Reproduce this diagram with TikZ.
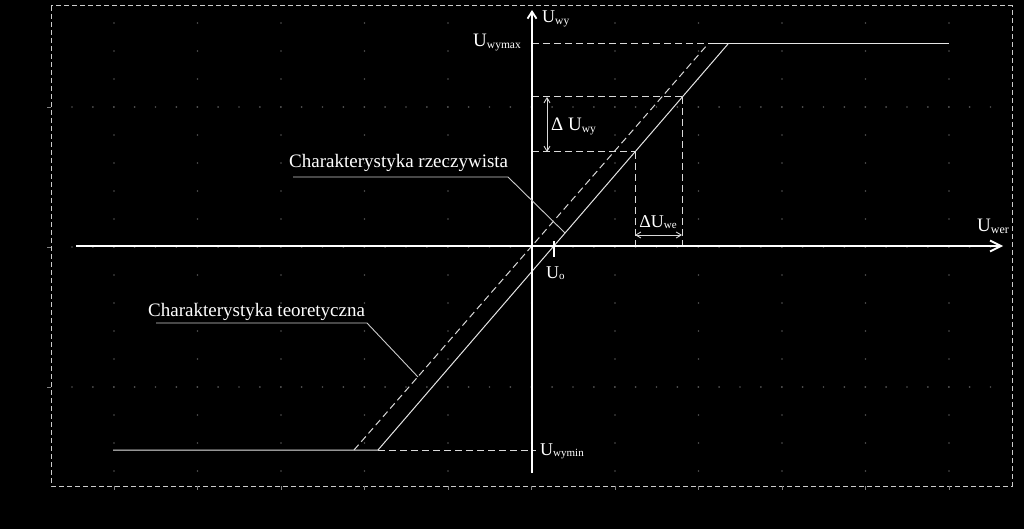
\documentclass[tikz,border=0pt]{standalone}
\usepackage{fontspec}
\setmainfont{Liberation Serif}
\usetikzlibrary{arrows.meta}
\newcommand\lowsub[2]{{\fontsize{#1}{#1}\selectfont\raisebox{-1.5pt}{#2}}}
\begin{document}
\begin{tikzpicture}[x=1pt,y=-1pt,
  font=\fontsize{19}{22}\selectfont,
  txt/.style={text=white, inner sep=0pt},
  axis/.style={white, line width=1.8pt},
  curve/.style={white!90!black, line width=1pt},
  guide/.style={white!85!black, line width=1pt, dash pattern=on 7pt off 4pt},
  leader/.style={white!80!black, line width=0.9pt},
  dimline/.style={white!85!black, line width=0.9pt, {Straight Barb[length=5pt,width=6pt]}-{Straight Barb[length=5pt,width=6pt]}},
  frame/.style={white!80!black, line width=1pt, dash pattern=on 5pt off 3pt},
  dotc/.style={fill=white!32!black},
  tickc/.style={white!50!black, line width=0.8pt}
]
\fill[black] (0,0) rectangle (1024,529);
\useasboundingbox (0,0) rectangle (1024,529);

% faint dot grid
\foreach \i in {0,...,10} \foreach \k in {-8,...,8}
  \fill[dotc] ({114+83.5*\i},{247+28*\k}) circle (0.9pt);
\foreach \yy in {107,247,387} \foreach \j in {0,...,44}
  \fill[dotc] ({72+20.875*\j},\yy) circle (0.9pt);

% frame and ticks
\draw[frame] (51,6) rectangle (1012,486);
\foreach \i in {0,...,10} \draw[tickc] ({114+83.5*\i},486) -- ++(0,4);
\foreach \yy in {107,247,387} \draw[tickc] (51,\yy) -- ++(-4,0);

% coordinates
\coordinate (O) at (532,246);
\coordinate (xs) at (76,246);
\coordinate (xe) at (1003,246);
\coordinate (ys) at (532,473);
\coordinate (ye) at (532,10);
\coordinate (T1) at (354,450);
\coordinate (T2) at (708,44);
\coordinate (R1) at (378,450);
\coordinate (R2) at (728,44);
\coordinate (Lend) at (113,450);
\coordinate (Rend) at (949,44);
\coordinate (Ymax) at (532,44);
\coordinate (Ymin) at (536,450);
\coordinate (P1) at (682,97);
\coordinate (P2) at (635,152);
\coordinate (A1) at (532,97);
\coordinate (A2) at (532,152);
\coordinate (B1) at (682,246);
\coordinate (B2) at (635,246);
\coordinate (U0t) at (554,241);
\coordinate (U0b) at (554,257);
\coordinate (D1) at (547,97);
\coordinate (D2) at (547,152);
\coordinate (E1) at (635,235);
\coordinate (E2) at (682,235);
\coordinate (La) at (293,177);
\coordinate (Lb) at (508,177);
\coordinate (Lc) at (565,233);
\coordinate (Ma) at (156,323);
\coordinate (Mb) at (367,323);
\coordinate (Mc) at (418,377);

% guides
\draw[guide] (Ymax) -- (T2);
\draw[guide] (R1) -- (Ymin);
\draw[guide] (A1) -- (P1);
\draw[guide] (A2) -- (P2);
\draw[guide] (P1) -- (B1);
\draw[guide] (P2) -- (B2);
\draw[guide] (T1) -- (T2);

% characteristics
\draw[curve] (Lend) -- (R1) -- (R2);
\draw[curve] (T2) -- (Rend);

% axes
\draw[axis, -{Straight Barb[length=11pt,width=11pt]}] (xs) -- (xe);
\draw[axis, -{Straight Barb[length=7pt,width=9pt]}] (ys) -- (ye);
\draw[axis, line width=1.5pt] (U0t) -- (U0b);

% dimensions
\draw[dimline] (D1) -- (D2);
\draw[dimline] (E1) -- (E2);

% leaders
\draw[leader] (La) -- (Lb) -- (Lc);
\draw[leader] (Ma) -- (Mb) -- (Mc);

% labels
\node[txt, anchor=base west] (lr) at (289,168) {Charakterystyka rzeczywista};
\node[txt, anchor=base west] (lt) at (148,316) {Charakterystyka teoretyczna};
\node[txt, anchor=base west, font=\fontsize{18}{20}\selectfont] (uwy) at (542,23) {U\lowsub{11.5}{wy}};
\node[txt, anchor=base east] (umax) at (521,47) {U\lowsub{11.5}{wymax}};
\node[txt, anchor=base west, font=\fontsize{18}{20}\selectfont] (umin) at (540,455) {U\lowsub{11}{wymin}};
\node[txt, anchor=base west] (uwer) at (977,232) {U\lowsub{12}{wer}};
\node[txt, anchor=base west] (duwy) at (551,131) {Δ U\lowsub{11.5}{wy}};
\node[txt, anchor=base, font=\fontsize{18}{20}\selectfont] (duwe) at (658,227) {ΔU\lowsub{11}{we}};
\node[txt, anchor=base west, font=\fontsize{18}{20}\selectfont] (u0) at (546,278) {U\lowsub{11}{o}};
\end{tikzpicture}
\end{document}
